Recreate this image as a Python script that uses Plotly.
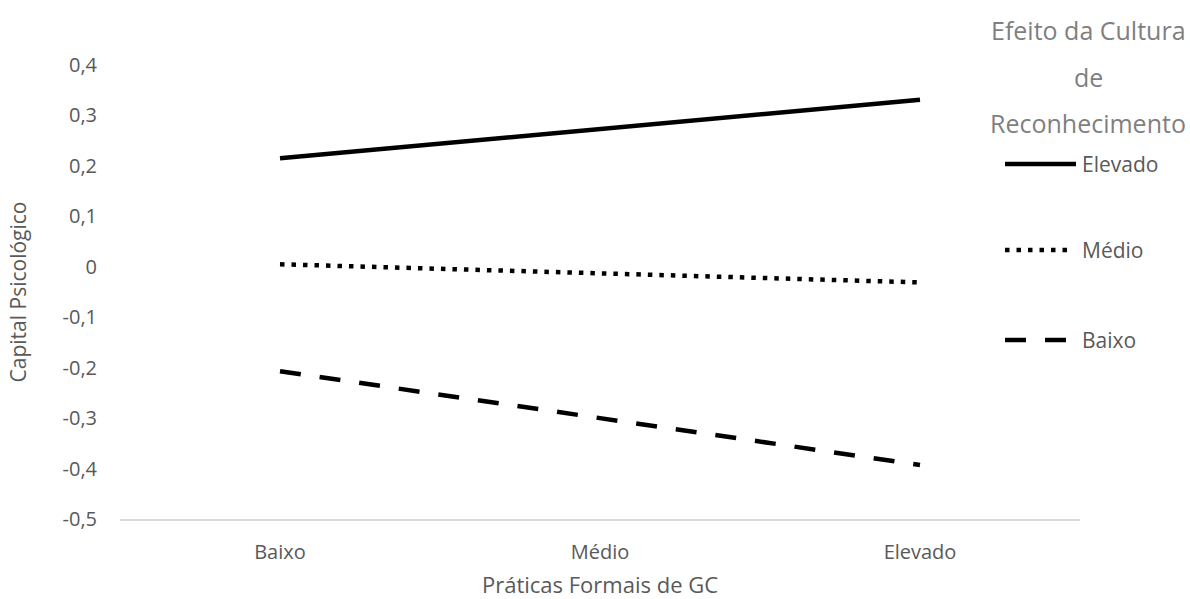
import plotly.graph_objects as go

# Data
categories = ["Baixo", "Médio", "Elevado"]
elevado = [0.215, 0.273, 0.331]
medio = [0.005, -0.013, -0.031]
baixo = [-0.207, -0.300, -0.393]

y_ticks = [-0.5, -0.4, -0.3, -0.2, -0.1, 0, 0.1, 0.2, 0.3, 0.4]
y_tick_labels = ["-0,5", "-0,4", "-0,3", "-0,2", "-0,1", "0", "0,1", "0,2", "0,3", "0,4"]

legend_title_lines = ["Efeito da Cultura", "de", "Reconhecimento"]
series_names = ["Elevado", "Médio", "Baixo"]

W, H = 1190, 599
ML, MR, MT, MB = 120, 110, 65, 80
FONT = "Open Sans"
TICK_COLOR = "#595959"

styles = {
    "Elevado": dict(color="black", width=4.5, dash="solid"),
    "Médio": dict(color="black", width=4.5, dash="4.5px,7px"),
    "Baixo": dict(color="black", width=4.5, dash="21px,19px"),
}

fig = go.Figure()
for name, vals in zip(series_names, [elevado, medio, baixo]):
    fig.add_trace(go.Scatter(x=categories, y=vals, mode="lines", name=name,
                             line=styles[name], showlegend=False))

# paper-coordinate helpers for the hand-built legend
pw, ph = W - ML - MR, H - MT - MB
def px_x(px):
    return (px - ML) / pw
def px_y(py):
    return (H - MB - py) / ph

annotations = []
for line_text, yy in zip(legend_title_lines, [30, 77, 123]):
    annotations.append(dict(text=line_text, x=px_x(1088), y=px_y(yy), xref="paper", yref="paper",
                            showarrow=False, xanchor="center", yanchor="middle",
                            font=dict(family=FONT, size=25, color="#7f7f7f")))
shapes = []
legend_rows = {"Elevado": 164, "Médio": 250, "Baixo": 340}
for name in series_names:
    yy = legend_rows[name]
    x1 = 1076 if name == "Elevado" else 1067
    shapes.append(dict(type="line", xref="paper", yref="paper",
                       x0=px_x(1005), x1=px_x(x1), y0=px_y(yy), y1=px_y(yy),
                       line=styles[name]))
    annotations.append(dict(text=name, x=px_x(1080), y=px_y(yy), xref="paper", yref="paper",
                            showarrow=False, xanchor="left", yanchor="middle",
                            font=dict(family=FONT, size=21, color=TICK_COLOR)))

fig.update_layout(
    width=W, height=H,
    margin=dict(l=ML, r=MR, t=MT, b=MB),
    paper_bgcolor="white", plot_bgcolor="white",
    font=dict(family=FONT, size=20, color=TICK_COLOR),
    showlegend=False,
    shapes=shapes,
    annotations=annotations,
    xaxis=dict(
        type="category", range=[-0.5, 2.5], automargin=False,
        showgrid=False, zeroline=False,
        showline=True, linecolor="#d9d9d9", linewidth=1.5,
        ticks="", ticklabelstandoff=14,
        tickfont=dict(family=FONT, size=20, color=TICK_COLOR),
        title=dict(text="Práticas Formais de GC", standoff=30,
                   font=dict(family=FONT, size=22, color=TICK_COLOR)),
    ),
    yaxis=dict(
        range=[-0.5, 0.4], automargin=False,
        showgrid=False, zeroline=False, showline=False,
        tickvals=y_ticks, ticktext=y_tick_labels,
        ticks="", ticklabelstandoff=22,
        tickfont=dict(family=FONT, size=20, color=TICK_COLOR),
        title=dict(text="Capital Psicológico", standoff=30,
                   font=dict(family=FONT, size=21, color=TICK_COLOR)),
    ),
)

fig.write_html("out.html")
